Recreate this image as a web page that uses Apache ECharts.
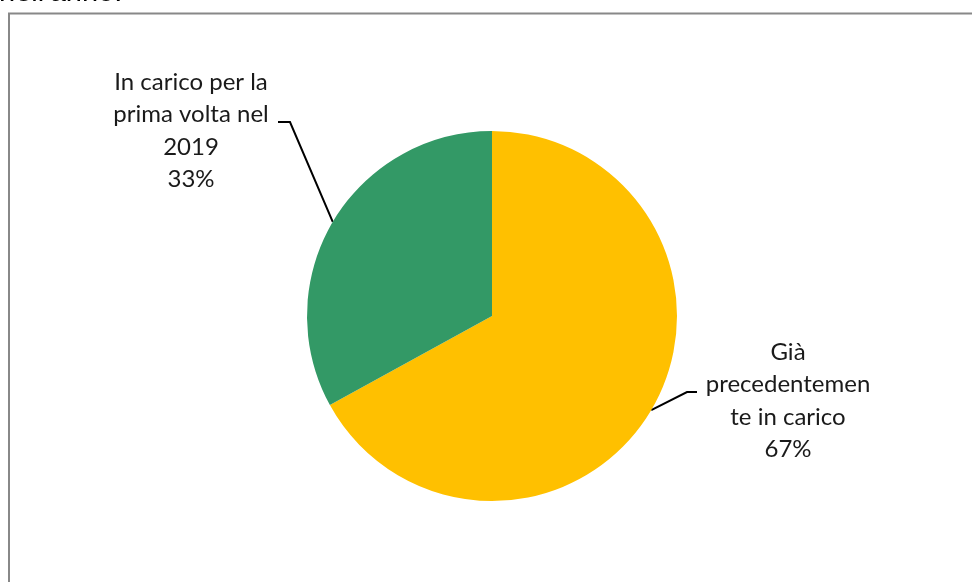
<!DOCTYPE html>
<html>
<head>
<meta charset="utf-8">
<script src="https://cdn.jsdelivr.net/npm/echarts@6/dist/echarts.min.js"></script>
<style>
  html, body { margin: 0; padding: 0; background: #fff; }
  #chart { width: 972px; height: 582px; }
</style>
</head>
<body>
<div id="chart"></div>
<script>
// dati del grafico
const categories = ['Già precedentemente in carico', 'In carico per la prima volta nel 2019'];
const labelTexts = ['Già\nprecedentemen\nte in carico', 'In carico per la\nprima volta nel\n2019'];
const values = [67, 33];
const colors = ['#FFC000', '#339966'];

// posizione delle etichette (come nel grafico excel)
const labelPos = [
  { x: 788, y: 401, bend: [687, 392], end: [697, 392] },
  { x: 191, y: 131, bend: [290, 122], end: [278, 122] }
];

const chart = echarts.init(document.getElementById('chart'));

chart.setOption({
  animation: false,
  graphic: [
    {
      type: 'text',
      left: -1,
      top: -22,
      style: { text: "nell'anno.", font: '29px "Liberation Sans", Arial', fill: '#000' }
    },
    {
      type: 'rect',
      shape: { x: 9, y: 13.5, width: 1200, height: 1000 },
      style: { fill: 'none', stroke: '#888', lineWidth: 2 }
    }
  ],
  series: [
    {
      type: 'pie',
      center: [492, 316],
      radius: 185,
      startAngle: 90,
      clockwise: true,
      data: categories.map((c, i) => ({
        name: c,
        value: values[i],
        itemStyle: { color: colors[i] }
      })),
      label: {
        show: true,
        formatter: p => labelTexts[p.dataIndex] + '\n' + p.percent.toFixed(0) + '%',
        fontFamily: 'Lato',
        fontSize: 24,
        lineHeight: 32.5,
        color: '#1a1a1a',
        align: 'center'
      },
      labelLine: {
        show: true,
        lineStyle: { color: '#000', width: 2 }
      },
      labelLayout: function (params) {
        const p = labelPos[params.dataIndex];
        const start = params.labelLinePoints ? params.labelLinePoints[0] : p.bend;
        return {
          x: p.x,
          y: p.y,
          align: 'center',
          verticalAlign: 'middle',
          labelLinePoints: [start, p.bend, p.end]
        };
      },
      emphasis: { disabled: true }
    }
  ]
});
</script>
</body>
</html>
